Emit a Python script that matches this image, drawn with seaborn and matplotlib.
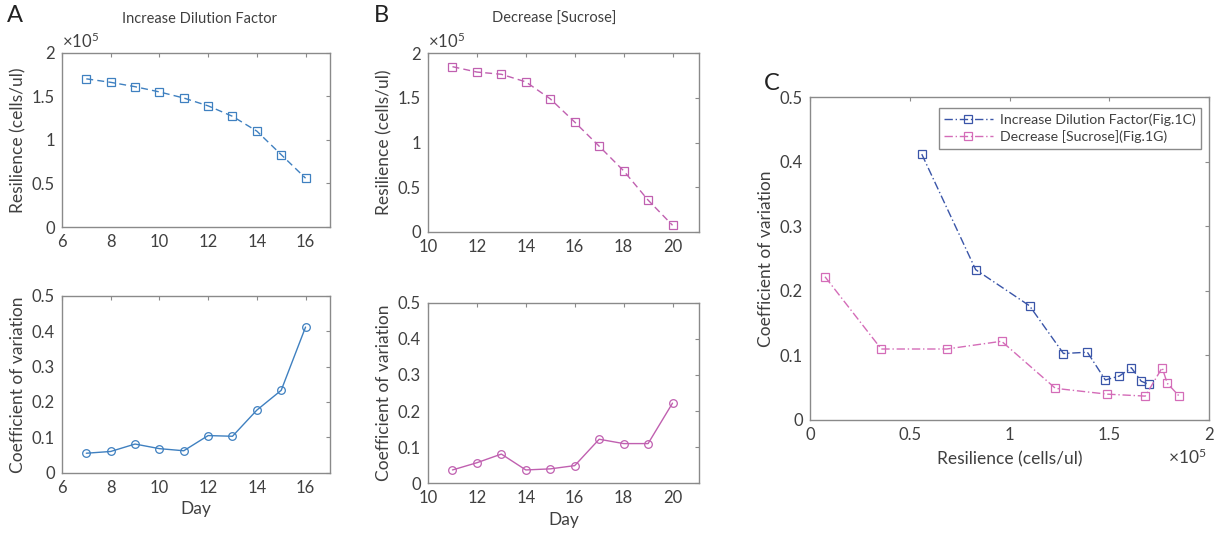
import numpy as np
import pandas as pd
import matplotlib
matplotlib.use("Agg")
import matplotlib.pyplot as plt
import seaborn as sns
from matplotlib.ticker import FuncFormatter, MultipleLocator

# Panel A: increase dilution factor
days_a = [7, 8, 9, 10, 11, 12, 13, 14, 15, 16]
res_a = [1.70e5, 1.66e5, 1.61e5, 1.55e5, 1.48e5, 1.39e5, 1.27e5, 1.10e5, 0.83e5, 0.56e5]
cv_a = [0.055, 0.060, 0.081, 0.068, 0.062, 0.105, 0.103, 0.177, 0.233, 0.412]

# Panel B: decrease sucrose
days_b = [11, 12, 13, 14, 15, 16, 17, 18, 19, 20]
res_b = [1.85e5, 1.79e5, 1.765e5, 1.68e5, 1.49e5, 1.23e5, 0.96e5, 0.685e5, 0.357e5, 0.075e5]
cv_b = [0.037, 0.057, 0.081, 0.037, 0.040, 0.049, 0.122, 0.110, 0.110, 0.222]

label_a = "Increase Dilution Factor(Fig.1C)"
label_b = "Decrease [Sucrose](Fig.1G)"

blue = "#3f80c0"
pink = "#c060b0"
blue_c = "#3a55a8"
pink_c = "#d46cb8"
txt = "#404040"
spine = "#8a8a8a"

sns.set_theme(style="white")
plt.rcParams["font.family"] = ["Lato", "DejaVu Sans"]
plt.rcParams["mathtext.default"] = "regular"
plt.rcParams["text.color"] = txt
plt.rcParams["axes.labelcolor"] = txt
plt.rcParams["xtick.color"] = txt
plt.rcParams["ytick.color"] = txt

fig = plt.figure(figsize=(12.17, 5.35), dpi=100)

ax_a1 = fig.add_axes([0.0509, 0.5757, 0.2202, 0.3258])
ax_a2 = fig.add_axes([0.0509, 0.1165, 0.2202, 0.3303])
ax_b1 = fig.add_axes([0.3517, 0.5664, 0.2224, 0.3340])
ax_b2 = fig.add_axes([0.3517, 0.0966, 0.2224, 0.3376])
ax_c = fig.add_axes([0.6656, 0.2150, 0.3279, 0.6030])

e5 = FuncFormatter(lambda v, p: f"{v / 1e5:g}")
plain = FuncFormatter(lambda v, p: f"{v:g}")


def style(ax):
    for s in ax.spines.values():
        s.set_visible(True)
        s.set_color(spine)
        s.set_linewidth(1.0)
    ax.tick_params(direction="in", length=3, width=0.8, color=spine,
                   top=True, right=True, labelsize=12, pad=5,
                   labelcolor=txt)


df_a = pd.DataFrame({"day": days_a, "res": res_a, "cv": cv_a})
df_b = pd.DataFrame({"day": days_b, "res": res_b, "cv": cv_b})

mk = dict(markersize=5.5, markerfacecolor="none", markeredgewidth=0.9, linewidth=1.0)

sns.lineplot(data=df_a, x="day", y="res", ax=ax_a1, color=blue, marker="s",
             linestyle=(0, (5, 3)), markeredgecolor=blue, **mk)
sns.lineplot(data=df_a, x="day", y="cv", ax=ax_a2, color=blue, marker="o",
             linestyle="-", markeredgecolor=blue, **mk)
sns.lineplot(data=df_b, x="day", y="res", ax=ax_b1, color=pink, marker="s",
             linestyle=(0, (5, 3)), markeredgecolor=pink, **mk)
sns.lineplot(data=df_b, x="day", y="cv", ax=ax_b2, color=pink, marker="o",
             linestyle="-", markeredgecolor=pink, **mk)

for ax, lo, hi in [(ax_a1, 6, 17), (ax_a2, 6, 17), (ax_b1, 10, 21.07), (ax_b2, 10, 21.07)]:
    ax.set_xlim(lo, hi)
    ax.xaxis.set_major_formatter(plain)
    style(ax)
ax_a1.set_xticks(range(6, 17, 2))
ax_a2.set_xticks(range(6, 17, 2))
ax_b1.set_xticks(range(10, 21, 2))
ax_b2.set_xticks(range(10, 21, 2))

for ax in (ax_a1, ax_b1):
    ax.set_ylim(0, 2e5)
    ax.yaxis.set_major_locator(MultipleLocator(0.5e5))
    ax.yaxis.set_major_formatter(e5)
    ax.set_ylabel("Resilience (cells/ul)", fontsize=12.5)
    ax.set_xlabel("")
    ax.text(0.0, 1.01, r"$\times10^5$", transform=ax.transAxes, fontsize=12,
            ha="left", va="bottom", color=txt)

for ax in (ax_a2, ax_b2):
    ax.set_ylim(0, 0.5)
    ax.yaxis.set_major_locator(MultipleLocator(0.1))
    ax.yaxis.set_major_formatter(plain)
    ax.set_ylabel("Coefficient of variation", fontsize=12.5)
    ax.set_xlabel("Day", fontsize=12.5, labelpad=4)

# Panel C: CV against resilience
df_c = pd.concat([
    pd.DataFrame({"res": res_a, "cv": cv_a, "set": label_a}),
    pd.DataFrame({"res": res_b, "cv": cv_b, "set": label_b}),
])
for name, col in [(label_a, blue_c), (label_b, pink_c)]:
    sub = df_c[df_c["set"] == name]
    sns.lineplot(data=sub, x="res", y="cv", ax=ax_c, color=col, marker="s",
                 linestyle=(0, (6, 2, 1, 2)), markeredgecolor=col, label=name,
                 **mk)

ax_c.set_xlim(0, 2e5)
ax_c.set_ylim(0, 0.5)
ax_c.xaxis.set_major_locator(MultipleLocator(0.5e5))
ax_c.xaxis.set_major_formatter(e5)
ax_c.yaxis.set_major_locator(MultipleLocator(0.1))
ax_c.yaxis.set_major_formatter(plain)
ax_c.set_xlabel("Resilience (cells/ul)", fontsize=12.5, labelpad=6)
ax_c.set_ylabel("Coefficient of variation", fontsize=12.5)
style(ax_c)
ax_c.text(0.995, -0.085, r"$\times10^5$", transform=ax_c.transAxes, fontsize=12.5,
          ha="right", va="top", color=txt)
leg = ax_c.legend(loc="upper right", bbox_to_anchor=(0.9975, 0.99), fontsize=10.2,
                  frameon=True, fancybox=False, framealpha=1, edgecolor=spine,
                  borderpad=0.4, handlelength=3.4, handletextpad=0.5,
                  labelspacing=0.3)
leg.get_frame().set_linewidth(1.0)

# titles and panel letters
fig.text(200 / 1217, 1 - 19 / 535, "Increase Dilution Factor", fontsize=10.5,
         ha="center", va="center", color=txt)
fig.text(554 / 1217, 1 - 19 / 535, "Decrease [Sucrose]", fontsize=10.5,
         ha="center", va="center", color=txt)
fig.text(7 / 1217, 1 - 15 / 535, "A", fontsize=17, ha="left", va="center", color="#222222")
fig.text(374 / 1217, 1 - 15 / 535, "B", fontsize=17, ha="left", va="center", color="#222222")
fig.text(764 / 1217, 1 - 83 / 535, "C", fontsize=17, ha="left", va="center", color="#222222")

fig.savefig("out.png", dpi=100)
